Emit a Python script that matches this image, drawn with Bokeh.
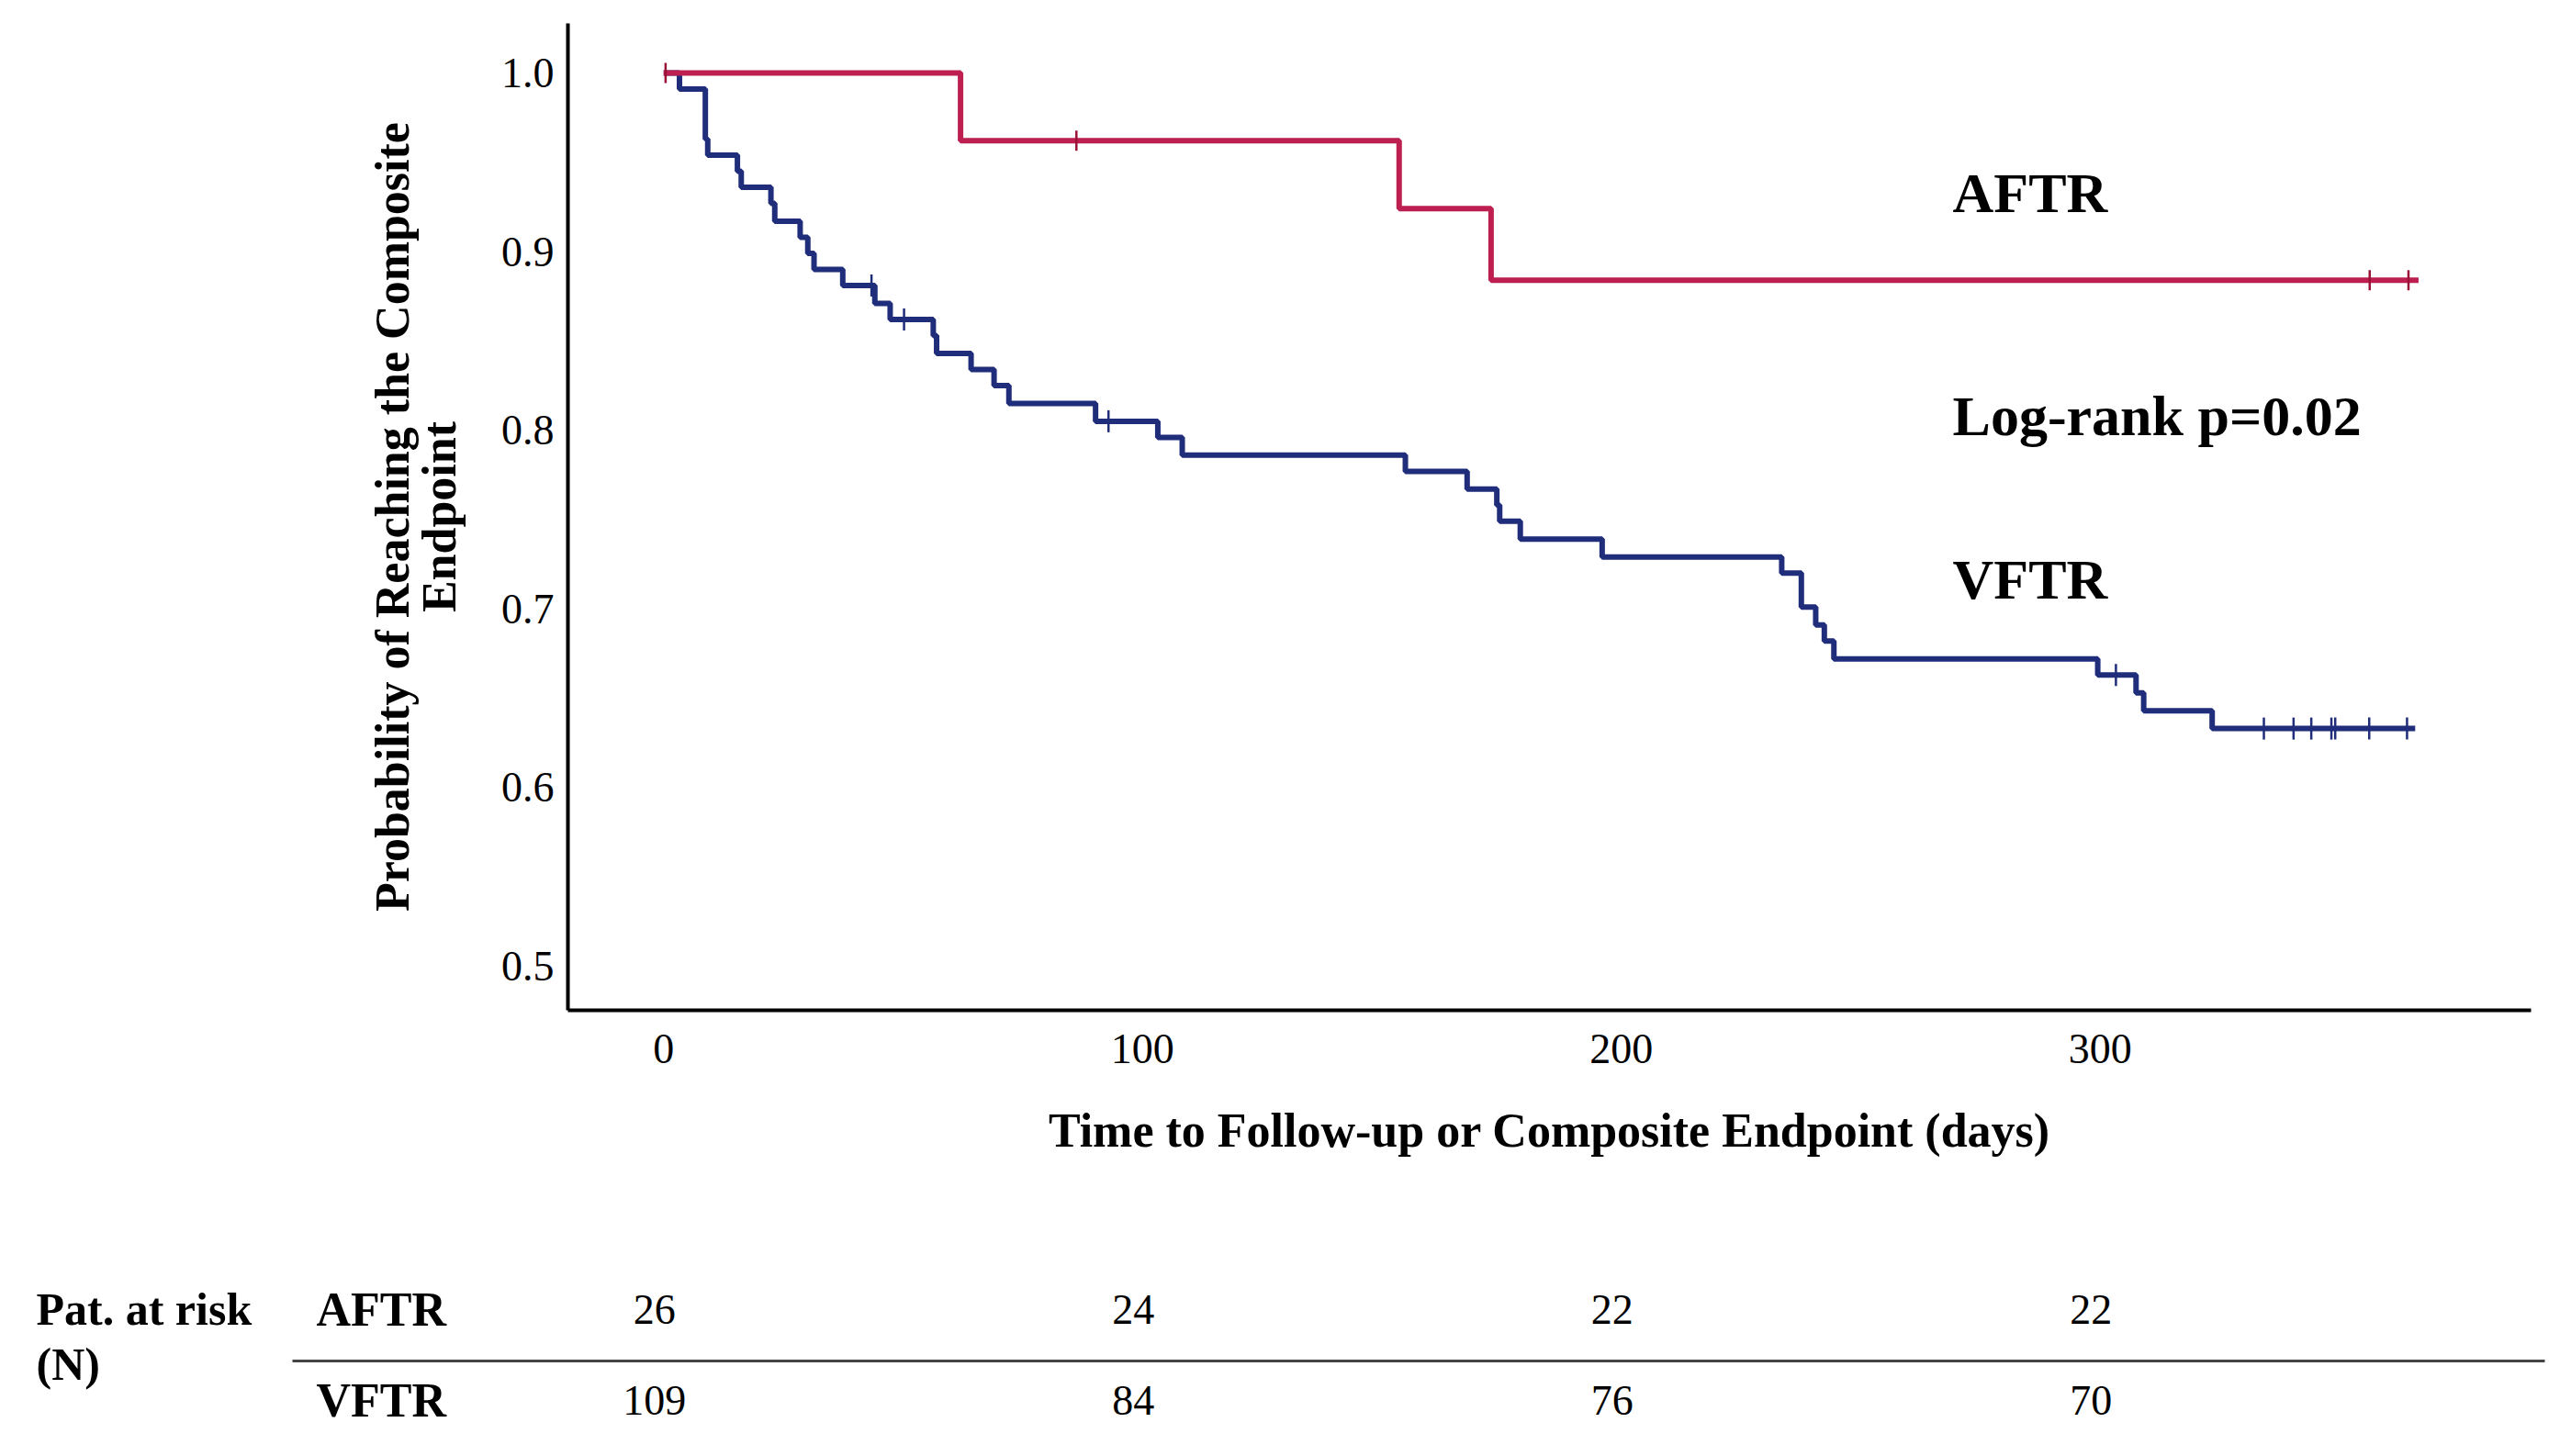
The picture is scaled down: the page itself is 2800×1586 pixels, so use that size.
import numpy as np
from bokeh.plotting import figure
from bokeh.layouts import column
from bokeh.models import Range1d, FixedTicker, PrintfTickFormatter, Label, BoxAnnotation
from bokeh.embed import file_html
from bokeh.resources import INLINE
from bokeh.core.properties import value

# ---------------- data ----------------
aftr_time = [0, 62.0, 153.6, 172.8, 366.5]
aftr_surv = [1.0, 0.962, 0.924, 0.884, 0.884]
aftr_cens = [0.4, 86.2, 356.3, 364.4]

vftr_time = [0, 3.3, 8.7, 9.2, 15.4, 16.2, 22.4, 23.2, 28.5, 30.1, 31.4, 37.4,
             44.1, 47.3, 56.3, 57.0, 64.2, 69.0, 72.1, 90.2, 103.2, 108.3,
             154.9, 167.8, 174.0, 174.6, 178.9, 196.0, 233.5, 237.6, 240.6,
             242.4, 244.4, 299.5, 307.5, 309.1, 323.4, 365.8]
vftr_surv = [1.0, 0.991, 0.963, 0.954, 0.945, 0.936, 0.927, 0.917, 0.908, 0.899,
             0.890, 0.881, 0.871, 0.862, 0.853, 0.843, 0.834, 0.825, 0.815, 0.805,
             0.796, 0.786, 0.777, 0.767, 0.758, 0.749, 0.739, 0.729, 0.720, 0.701,
             0.691, 0.682, 0.672, 0.663, 0.653, 0.643, 0.633, 0.633]
vftr_cens = [43.4, 50.2, 92.9, 303.3, 334.2, 340.4, 344.1, 348.3, 349.1, 356.2, 364.1]

x_ticks = [0, 100, 200, 300]
y_ticks = [0.5, 0.6, 0.7, 0.8, 0.9, 1.0]

risk_days = [0, 100, 200, 300]
risk_aftr = [26, 24, 22, 22]
risk_vftr = [109, 84, 76, 70]


def step_value(times, surv, t):
    idx = np.searchsorted(np.array(times), t, side="right") - 1
    return [surv[i] for i in idx]


RED = "#BC1F50"
RED_DARK = "#9A1238"
BLUE = "#1F2D7B"
FONT = "Liberation Serif"

W = 2784
MAIN_H = 1300
LEFT = 618
RIGHT = W - 2756
TOP = 25
BOTTOM_EDGE = 1100
X0, X1 = -20, 390
Y0, Y1 = 0.4753, 1.0277

p = figure(width=W, height=MAIN_H, x_range=Range1d(X0, X1), y_range=Range1d(Y0, Y1),
           output_backend="svg", toolbar_location=None, title=None,
           min_border_left=LEFT, min_border_right=RIGHT, min_border_top=TOP,
           min_border_bottom=MAIN_H - BOTTOM_EDGE)
p.xgrid.visible = False
p.ygrid.visible = False
p.outline_line_color = None

for ax in (p.xaxis, p.yaxis):
    ax.axis_line_width = 4
    ax.axis_line_color = "black"
    ax.major_tick_line_color = None
    ax.minor_tick_line_color = None
    ax.major_tick_out = 0
    ax.major_tick_in = 0
    ax.major_label_text_font = FONT
    ax.major_label_text_font_size = "46px"
    ax.major_label_text_color = "black"
    ax.axis_label_text_font = FONT
    ax.axis_label_text_font_style = "bold"
    ax.axis_label_text_color = "black"

p.xaxis.ticker = FixedTicker(ticks=x_ticks)
p.yaxis.ticker = FixedTicker(ticks=y_ticks)
p.yaxis.formatter = PrintfTickFormatter(format="%.1f")
p.xaxis.major_label_standoff = 26
p.yaxis.major_label_standoff = 15

p.xaxis.axis_label = "Time to Follow-up or Composite Endpoint (days)"
p.xaxis.axis_label_text_font_size = "52px"
p.xaxis.axis_label_standoff = 42
p.yaxis.axis_label = "Probability of Reaching the Composite\nEndpoint"
p.yaxis.axis_label_text_font_size = "52px"
p.yaxis.axis_label_text_line_height = 0.9
p.yaxis.axis_label_standoff = 36

# curves
p.step(vftr_time, vftr_surv, mode="after", line_color=BLUE, line_width=6)
p.step(aftr_time, aftr_surv, mode="after", line_color=RED, line_width=6)

p.scatter(vftr_cens, step_value(vftr_time, vftr_surv, vftr_cens), marker="dash",
          angle=np.pi / 2, size=24, line_color=BLUE, line_width=2.5)
p.scatter(aftr_cens, step_value(aftr_time, aftr_surv, aftr_cens), marker="dash",
          angle=np.pi / 2, size=22, line_color=RED_DARK, line_width=2.5)

for txt, yv in (("AFTR", 0.9327), ("Log-rank p=0.02", 0.8078), ("VFTR", 0.7167)):
    p.add_layout(Label(x=269.2, y=yv, text=txt, text_font=FONT, text_font_size="62px",
                       text_font_style="bold", text_color="black",
                       text_baseline="alphabetic", text_align="left"))

# ---------------- risk table ----------------
TAB_H = 270
can_unalign = "frame_align" in figure.properties()
if can_unalign:
    ppd = (W - LEFT - RIGHT) / (X1 - X0)
    tx0 = X0 - LEFT / ppd
    t_xrange = Range1d(tx0, tx0 + W / ppd)
    tb_left, tb_right, off = 0, 0, 0
else:
    t_xrange = p.x_range
    tb_left, tb_right, off = LEFT, RIGHT, LEFT

t = figure(width=W, height=TAB_H, x_range=t_xrange, y_range=Range1d(0, TAB_H),
           output_backend="svg", toolbar_location=None, title=None,
           x_axis_location=None, y_axis_location=None,
           min_border_left=tb_left, min_border_right=tb_right,
           min_border_top=0, min_border_bottom=0)
if can_unalign:
    t.frame_align = False
    p.frame_align = False
t.xgrid.visible = False
t.ygrid.visible = False
t.outline_line_color = None

t.text(x=risk_days, y=[144] * len(risk_days), text=[str(v) for v in risk_aftr],
       text_align="center", text_baseline="alphabetic", text_font=value(FONT),
       text_font_size="46px", text_color="black", x_offset=-10)
t.text(x=risk_days, y=[45] * len(risk_days), text=[str(v) for v in risk_vftr],
       text_align="center", text_baseline="alphabetic", text_font=value(FONT),
       text_font_size="46px", text_color="black", x_offset=-10)

for txt, xs, ys, fs in (("Pat. at risk", 39, 145, "50px"), ("(N)", 39, 85, "50px"),
                        ("AFTR", 344, 144, "52px"), ("VFTR", 344, 45, "52px")):
    t.add_layout(Label(x=xs - off, y=ys, x_units="screen", y_units="screen", text=txt,
                       text_font=FONT, text_font_size=fs, text_font_style="bold",
                       text_color="black", text_baseline="alphabetic", text_align="left"))

t.add_layout(BoxAnnotation(left=318 - off, right=2771 - off, bottom=86.5, top=89.5,
                           left_units="screen", right_units="screen",
                           bottom_units="screen", top_units="screen",
                           fill_color="#444444", fill_alpha=1.0, line_color=None))

layout = column(p, t)
open("out.html", "w").write(file_html(layout, INLINE))
